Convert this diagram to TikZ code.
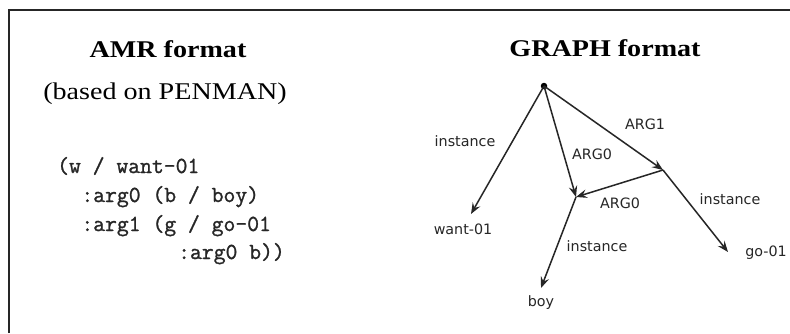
\documentclass[tikz,border=0pt]{standalone}
\usepackage{fontspec}
\setmainfont{Liberation Serif}
\newfontfamily\titlefont[FakeStretch=1.17]{Liberation Serif}
\newfontfamily\codefont[FakeBold=1.2]{Latin Modern Mono}
\newfontfamily\graphfont{DejaVu Sans}
\usetikzlibrary{arrows.meta}
\definecolor{ink}{gray}{0.15}
\tikzset{
  titletext/.style={anchor=base, inner sep=0pt, text=black,
    font=\titlefont\fontsize{24}{28}\selectfont},
  codetext/.style={anchor=base west, inner sep=0pt, text=ink,
    font=\codefont\fontsize{23}{27}\selectfont},
  lbl/.style={inner sep=0pt, text=ink, font=\graphfont\fontsize{14.3}{17}\selectfont},
  edge/.style={draw=ink, line width=1.5pt,
    -{Stealth[length=11pt,width=8.5pt,inset=4pt]}},
  rootdot/.style={circle, fill=black, inner sep=0pt, minimum size=6.5pt},
  frameline/.style={draw=black!85, line width=1.4pt}
}
\begin{document}
\begin{tikzpicture}[x=1pt,y=-1pt]
\useasboundingbox (0,0) rectangle (790,333);
\fill[white] (0,0) rectangle (790,333);
\draw[frameline] (9,333) -- (9,10) -- (790,10);

% titles
\node[titletext] (amr) at (168,57) {\bfseries AMR format};
\node[titletext] (penman) at (165,99) {(based on PENMAN)};
\node[titletext] (graph) at (605,56) {\bfseries GRAPH format};

% code
\node[codetext] (c1) at (57,173) {(w / want-01};
\node[codetext] (c2) at (81.2,202) {:arg0 (b / boy)};
\node[codetext] (c3) at (81.2,231) {:arg1 (g / go-01};
\node[codetext] (c4) at (178,259) {:arg0 b))};

% graph vertices
\node[rootdot] (w) at (544,86) {};
\coordinate (g) at (663,170);
\coordinate (b) at (576,197);
\coordinate (want) at (471,214);
\coordinate (boy) at (541,288);
\coordinate (go) at (728,252);

% vertex labels
\node[lbl] (wantL) at (463,229) {want-01};
\node[lbl] (boyL) at (541,303) {boy};
\node[lbl] (goL) at (766,253) {go-01};

% edges
\draw[edge] (w.center) -- (want);
\draw[edge] (w.center) -- (b);
\draw[edge] (w.center) -- (g);
\draw[edge] (g) -- (b);
\draw[edge] (g) -- (go);
\draw[edge] (b) -- (boy);

% edge labels
\node[lbl] (l1) at (465,141) {instance};
\node[lbl] (l2) at (592,154) {ARG0};
\node[lbl] (l3) at (645,124) {ARG1};
\node[lbl] (l4) at (620,203) {ARG0};
\node[lbl] (l5) at (730,199) {instance};
\node[lbl] (l6) at (597,246) {instance};
\end{tikzpicture}
\end{document}
